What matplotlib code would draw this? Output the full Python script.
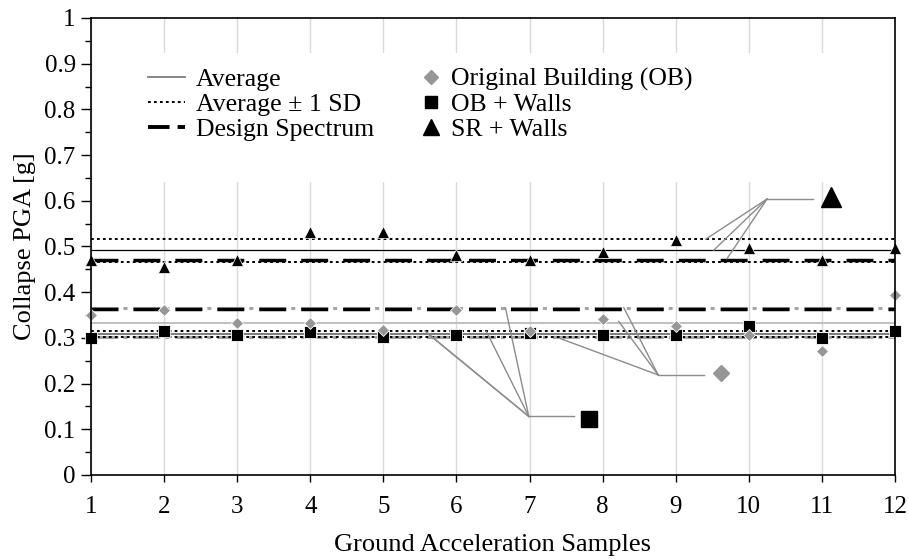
import matplotlib
matplotlib.use("Agg")
import matplotlib.pyplot as plt
from matplotlib.lines import Line2D
from matplotlib.patches import Rectangle
from matplotlib.ticker import FixedLocator, FixedFormatter, MultipleLocator

plt.rcParams['font.family'] = ['Liberation Serif', 'DejaVu Serif']
plt.rcParams['font.size'] = 18
plt.rcParams['lines.scale_dashes'] = False

# ---------------- data ----------------
samples = [1, 2, 3, 4, 5, 6, 7, 8, 9, 10, 11, 12]
xtick_labels = ['1', '2', '3', '4', '5', '6', '7', '8', '9', '10', '11', '12']
ytick_values = [0, 0.1, 0.2, 0.3, 0.4, 0.5, 0.6, 0.7, 0.8, 0.9, 1.0]
ytick_labels = ['0', '0.1', '0.2', '0.3', '0.4', '0.5', '0.6', '0.7', '0.8', '0.9', '1']

ob_values = [0.350, 0.360, 0.333, 0.333, 0.317, 0.361, 0.316, 0.341, 0.325, 0.306, 0.272, 0.394]
obw_values = [0.299, 0.315, 0.306, 0.312, 0.303, 0.306, 0.311, 0.306, 0.306, 0.325, 0.299, 0.316]
srw_values = [0.470, 0.455, 0.470, 0.532, 0.532, 0.481, 0.470, 0.487, 0.515, 0.497, 0.470, 0.497]

# horizontal reference levels
ob_avg = 0.333
ob_sd = [0.365, 0.302]
obw_avg = 0.309
obw_sd = [0.316, 0.302]
srw_avg = 0.492
srw_sd = [0.516, 0.467]
design_ob = 0.363
design_srw = 0.471

# callout keys (big marker, leader end, fan apex, fan targets)
srw_key = (11.13, 0.608)
srw_leader = (10.88, 0.604)
srw_apex = (10.25, 0.604)
srw_targets = [(9.41, 0.516), (9.52, 0.492), (9.70, 0.473)]

obw_key = (7.81, 0.123)
obw_leader = (7.61, 0.128)
obw_apex = (6.99, 0.128)
obw_targets = [(5.57, 0.315), (5.61, 0.309), (6.41, 0.314), (6.67, 0.366)]

ob_key = (9.62, 0.224)
ob_leader = (9.38, 0.219)
ob_apex = (8.76, 0.219)
ob_targets = [(7.43, 0.298), (8.22, 0.336), (8.29, 0.366)]

legend_line_labels = ['Average', 'Average \u00b1 1 SD', 'Design Spectrum']
legend_marker_labels = ['Original Building (OB)', 'OB + Walls', 'SR + Walls']

# ---------------- figure ----------------
fig = plt.figure(figsize=(9.09, 5.59), dpi=100)
ax = fig.add_axes([0.1001, 0.1503, 0.8845, 0.8175])

x_span = [samples[0], samples[-1]]

def hline(level, **kw):
    return ax.plot(x_span, [level, level], solid_capstyle='butt', **kw)[0]

dot_style = (0, (2.0, 2.3))
design_style = (0, (19.4, 10.8))
ob_sd_style = (0, (19.4, 3.6, 2.9, 4.3))

# OB lines
hline(ob_avg, color='#c0c0c0', lw=1.4, zorder=2)
for v in ob_sd:
    hline(v, color='#a6a6a6', lw=2.2, linestyle=ob_sd_style, zorder=2)
# OB + Walls lines
hline(obw_avg, color='#7f7f7f', lw=1.5, zorder=2.1)
for v in obw_sd:
    hline(v, color='black', lw=1.4, linestyle=dot_style, zorder=2.2)
# SR + Walls lines
hline(srw_avg, color='black', lw=0.9, zorder=2.1)
for v in srw_sd:
    hline(v, color='black', lw=1.4, linestyle=dot_style, zorder=2.2)
# design spectrum
hline(design_srw, color='black', lw=2.5, linestyle=design_style, zorder=2.3)
hline(design_ob, color='black', lw=2.5, linestyle=design_style, zorder=2.3)

# callout fans
fan_kw = dict(color='#8c8c8c', lw=1.0, zorder=3)
for apex, leader, targets in [(srw_apex, srw_leader, srw_targets),
                              (obw_apex, obw_leader, obw_targets),
                              (ob_apex, ob_leader, ob_targets)]:
    ax.plot([apex[0], leader[0]], [apex[1], leader[1]], **fan_kw)
    for t in targets:
        ax.plot([apex[0], t[0]], [apex[1], t[1]], **fan_kw)

# markers
ax.plot(samples, obw_values, linestyle='none', marker='s', ms=8, color='black',
        mec='white', mew=0.6, zorder=4, clip_on=False)
ax.plot(samples, ob_values, linestyle='none', marker='D', ms=6, color='#969696',
        mec='white', mew=0.6, zorder=5, clip_on=False)
ax.plot(samples, srw_values, linestyle='none', marker='^', ms=8, color='black',
        mec='white', mew=0.5, zorder=6, clip_on=False)

# big key markers
ax.plot([srw_key[0]], [srw_key[1]], marker='^', ms=15, color='black', linestyle='none', zorder=6)
ax.plot([obw_key[0]], [obw_key[1]], marker='s', ms=11.5, color='black', linestyle='none', zorder=6)
ax.plot([ob_key[0]], [ob_key[1]], marker='D', ms=8.2, color='#969696', linestyle='none', zorder=6)

# axes
ax.set_xlim(samples[0], samples[-1])
ax.set_ylim(0, 1)
ax.xaxis.set_major_locator(FixedLocator(samples))
ax.xaxis.set_major_formatter(FixedFormatter(xtick_labels))
ax.yaxis.set_major_locator(FixedLocator(ytick_values))
ax.yaxis.set_major_formatter(FixedFormatter(ytick_labels))
ax.yaxis.set_minor_locator(MultipleLocator(0.05))
ax.tick_params(axis='y', which='major', direction='out', length=7, width=1, pad=4, labelsize=18)
ax.tick_params(axis='y', which='minor', direction='out', length=4, width=1)
ax.tick_params(axis='x', which='major', direction='out', length=5, width=1, pad=10, labelsize=18)
ax.xaxis.grid(True, color='#d9d9d9', lw=1)
ax.set_axisbelow(True)
for s in ax.spines.values():
    s.set_color('black')
    s.set_linewidth(1.2)
    s.set_zorder(7)

ax.set_xlabel('Ground Acceleration Samples', fontsize=19)
ax.set_ylabel('Collapse PGA [g]', fontsize=19)
ax.xaxis.set_label_coords(0.5, -0.13)
ax.yaxis.set_label_coords(-0.068, 0.5)

# white legend background area
x0 = (150 - 91) / 804
x1 = (832 - 91) / 804
y0 = (475 - 182) / 457
y1 = (475 - 53) / 457
ax.add_patch(Rectangle((x0, y0), x1 - x0, y1 - y0, transform=ax.transAxes,
                       facecolor='white', edgecolor='none', zorder=1))

# legends (proxy handles)
line_handles = [
    Line2D([], [], color='#7f7f7f', lw=1.3),
    Line2D([], [], color='black', lw=1.4, linestyle=(0, (2.0, 2.3))),
    Line2D([], [], color='black', lw=2.8, linestyle=(0, (15.5, 5.8))),
]
marker_handles = [
    Line2D([], [], linestyle='none', marker='D', ms=6.8, color='#969696'),
    Line2D([], [], linestyle='none', marker='s', ms=8.5, color='black'),
    Line2D([], [], linestyle='none', marker='^', ms=12, color='black'),
]
leg_kw = dict(loc='upper left', bbox_transform=fig.transFigure, frameon=False,
              borderpad=0.3, borderaxespad=0, labelspacing=0.08, fontsize=18.5)
leg1 = ax.legend(line_handles, legend_line_labels,
                 bbox_to_anchor=(140 / 909, 1 - 60 / 559),
                 handlelength=1.45, handletextpad=0.43, **leg_kw)
ax.add_artist(leg1)
leg2 = ax.legend(marker_handles, legend_marker_labels,
                 bbox_to_anchor=(410 / 909, 1 - 60 / 559),
                 handlelength=1.0, handletextpad=0.3, **leg_kw)

fig.savefig('out.png', dpi=100)
